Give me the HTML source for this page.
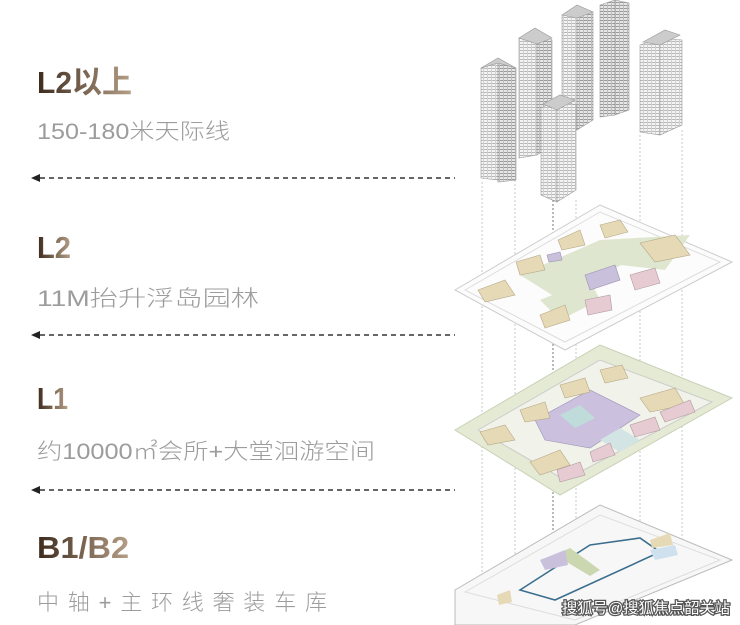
<!DOCTYPE html>
<html><head><meta charset="utf-8"><style>
html,body{margin:0;padding:0;background:#fff;}
svg{display:block}
.t{font-family:"Liberation Sans","Noto Sans CJK SC",sans-serif;font-weight:bold;font-size:31px}
.s{font-family:"Liberation Sans","Noto Sans CJK SC",sans-serif;font-size:22px;fill:#9c9c9c;font-weight:300}
</style></head><body>
<svg width="740" height="625" viewBox="0 0 740 625" xmlns="http://www.w3.org/2000/svg">
<defs>
<linearGradient id="g" x1="0" x2="1" y1="0" y2="0">
<stop offset="0" stop-color="#3d2a1c"/><stop offset="1" stop-color="#b59f87"/>
</linearGradient>
<pattern id="fl" width="4" height="3" patternUnits="userSpaceOnUse">
<rect width="4" height="3" fill="#f4f4f4"/><rect y="2" width="4" height="1" fill="#b8b8b8"/><rect x="3" width="1" height="3" fill="#d0d0d0"/>
</pattern>
<pattern id="fd" width="4" height="3" patternUnits="userSpaceOnUse">
<rect width="4" height="3" fill="#e6e6e6"/><rect y="2" width="4" height="1" fill="#9a9a9a"/><rect x="3" width="1" height="3" fill="#bcbcbc"/>
</pattern>
</defs>
<rect width="740" height="625" fill="#fff"/>

<!-- titles -->
<text class="t" x="37" y="93" fill="url(#g)" textLength="95" lengthAdjust="spacingAndGlyphs">L2以上</text>
<text class="s" x="37" y="139" textLength="193" lengthAdjust="spacingAndGlyphs">150-180米天际线</text>
<text class="t" x="37" y="258" fill="url(#g)" textLength="34" lengthAdjust="spacingAndGlyphs">L2</text>
<text class="s" x="37" y="306" textLength="222" lengthAdjust="spacingAndGlyphs">11M抬升浮岛园林</text>
<text class="t" x="37" y="409" fill="url(#g)" textLength="31" lengthAdjust="spacingAndGlyphs">L1</text>
<text class="s" x="37" y="459" textLength="338" lengthAdjust="spacingAndGlyphs">约10000㎡会所+大堂洄游空间</text>
<text class="t" x="37" y="558" fill="url(#g)" textLength="92" lengthAdjust="spacingAndGlyphs">B1/B2</text>
<text class="s" x="37" y="610" textLength="290" lengthAdjust="spacing">中轴+主环线奢装车库</text>

<!-- dashed arrows -->
<g stroke="#333" stroke-width="1.5" stroke-dasharray="5,4">
<line x1="40" y1="178" x2="455" y2="178"/>
<line x1="40" y1="335" x2="455" y2="335"/>
<line x1="40" y1="490" x2="455" y2="490"/>
</g>
<g fill="#222">
<polygon points="31,178 40,174 40,182"/>
<polygon points="31,335 40,331 40,339"/>
<polygon points="31,490 40,486 40,494"/>
</g>

<!-- vertical dotted guides -->
<g stroke="#bbb" stroke-width="0.8" stroke-dasharray="2,2">
<line x1="482" y1="182" x2="482" y2="610"/>
<line x1="515" y1="160" x2="515" y2="600"/>
<line x1="576" y1="200" x2="576" y2="560"/>
<line x1="640" y1="135" x2="640" y2="540"/>
<line x1="682" y1="130" x2="682" y2="540"/>
</g>
<line x1="553" y1="200" x2="553" y2="625" stroke="#555" stroke-width="0.8" stroke-dasharray="2,2"/>

<!-- L2 plate -->
<polygon points="455,290 600,205 732,262 565,350" fill="#fcfcfc" stroke="#ccc"/>
<polygon points="465,290 600,212 720,262 565,342" fill="none" stroke="#ddd"/>
<g fill="#dfe6cf">
<polygon points="520,275 600,240 630,260 560,300"/>
<polygon points="540,300 590,280 600,300 560,320"/>
<polygon points="600,240 690,235 665,270 620,265"/>
</g>
<g fill="#e6d9b6" stroke="#b5a887" stroke-width="0.6">
<polygon points="478,290 505,280 515,295 485,302"/>
<polygon points="516,262 540,255 545,270 520,275"/>
<polygon points="558,240 580,230 585,245 562,250"/>
<polygon points="600,225 620,220 628,232 605,238"/>
<polygon points="640,243 675,235 690,255 655,262"/>
<polygon points="540,315 565,305 570,320 545,328"/>
</g>
<g fill="#c9c0dc" stroke="#9a90b0" stroke-width="0.6">
<polygon points="585,275 615,265 620,280 590,290"/>
<polygon points="547,255 560,252 562,260 549,262"/>
</g>
<g fill="#e6cbd3" stroke="#b09aa0" stroke-width="0.6">
<polygon points="630,275 655,268 660,283 635,290"/>
<polygon points="585,300 610,295 612,310 588,315"/>
</g>

<!-- L1 plate -->
<polygon points="455,430 600,345 732,398 560,495" fill="#e4ead3" stroke="#c8d0b6"/>
<polygon points="478,430 600,360 712,402 565,480" fill="#f1f3ea" stroke="#ccc"/>
<polygon points="535,420 590,390 640,415 590,448 545,440" fill="#cbc1de" stroke="#9d93b6" stroke-width="0.6"/>
<polygon points="560,415 580,405 595,418 575,428" fill="#bfdcdb"/>
<polygon points="600,440 620,428 640,440 620,452" fill="#d2e4e4"/>
<g fill="#e6d9b6" stroke="#b5a887" stroke-width="0.6">
<polygon points="480,432 505,425 515,440 488,445"/>
<polygon points="520,410 545,402 550,418 525,422"/>
<polygon points="560,385 585,378 590,392 565,398"/>
<polygon points="600,370 622,365 628,378 605,383"/>
<polygon points="640,398 675,388 685,405 650,412"/>
<polygon points="530,462 560,450 570,465 540,475"/>
</g>
<g fill="#e6cbd3" stroke="#b09aa0" stroke-width="0.6">
<polygon points="660,412 690,400 695,412 665,422"/>
<polygon points="630,425 655,417 660,430 635,437"/>
<polygon points="590,452 610,443 615,455 593,462"/>
<polygon points="557,470 580,462 585,475 560,482"/>
</g>

<!-- B1 plate -->
<polygon points="455,590 600,505 732,560 575,625 455,625" fill="#f7f7f7" stroke="#bbb"/>
<polygon points="465,592 600,515 720,560 575,620" fill="none" stroke="#ddd"/>
<polygon points="520,590 590,545 640,538 660,552 555,600" fill="none" stroke="#3c6f8e" stroke-width="1.6"/>
<polygon points="555,555 570,548 600,570 590,576" fill="#cad7b0"/>
<polygon points="540,560 565,550 568,565 545,570" fill="#c9c0dc"/>
<polygon points="650,550 675,545 678,555 655,560" fill="#cfe0ee"/>
<polygon points="650,540 670,533 673,545 652,548" fill="#e6d9b6"/>
<polygon points="497,595 510,590 512,602 499,605" fill="#e6d9b6"/>

<!-- towers -->
<g stroke="#999" stroke-width="0.6">
<polygon points="481,68 498,63 498,180 481,178" fill="url(#fl)"/>
<polygon points="498,63 516,68 516,180 498,182" fill="url(#fd)"/>
<polygon points="481,68 498,58 516,68 498,63" fill="#ccc"/>
<polygon points="519,38 537,30 537,155 519,158" fill="url(#fl)"/>
<polygon points="537,30 552,40 552,145 537,155" fill="url(#fd)"/>
<polygon points="519,38 535,28 552,38 537,44" fill="#ccc"/>
<polygon points="562,15 577,8 577,130 562,126" fill="url(#fl)"/>
<polygon points="577,8 593,12 593,120 577,130" fill="url(#fd)"/>
<polygon points="562,15 577,5 593,12 577,18" fill="#ccc"/>
<polygon points="600,5 615,0 615,115 600,117" fill="url(#fd)"/>
<polygon points="615,0 629,3 629,110 615,115" fill="url(#fd)"/>
<polygon points="640,45 660,38 660,135 640,132" fill="url(#fl)"/>
<polygon points="660,38 682,40 682,125 660,135" fill="url(#fl)"/>
<polygon points="643,42 665,30 680,35 660,45" fill="#ccc"/>
<polygon points="541,108 557,100 557,202 541,195" fill="url(#fl)"/>
<polygon points="557,100 576,105 576,190 557,202" fill="url(#fl)"/>
<polygon points="543,104 560,95 575,100 557,110" fill="#ccc"/>
</g>

<!-- watermark -->
<text x="562" y="613" font-family="'Liberation Sans','Noto Sans CJK SC',sans-serif" font-size="15" fill="#fff" stroke="#555" stroke-width="2.5" paint-order="stroke" textLength="168" lengthAdjust="spacingAndGlyphs">搜狐号@搜狐焦点韶关站</text>
</svg>
</body></html>
